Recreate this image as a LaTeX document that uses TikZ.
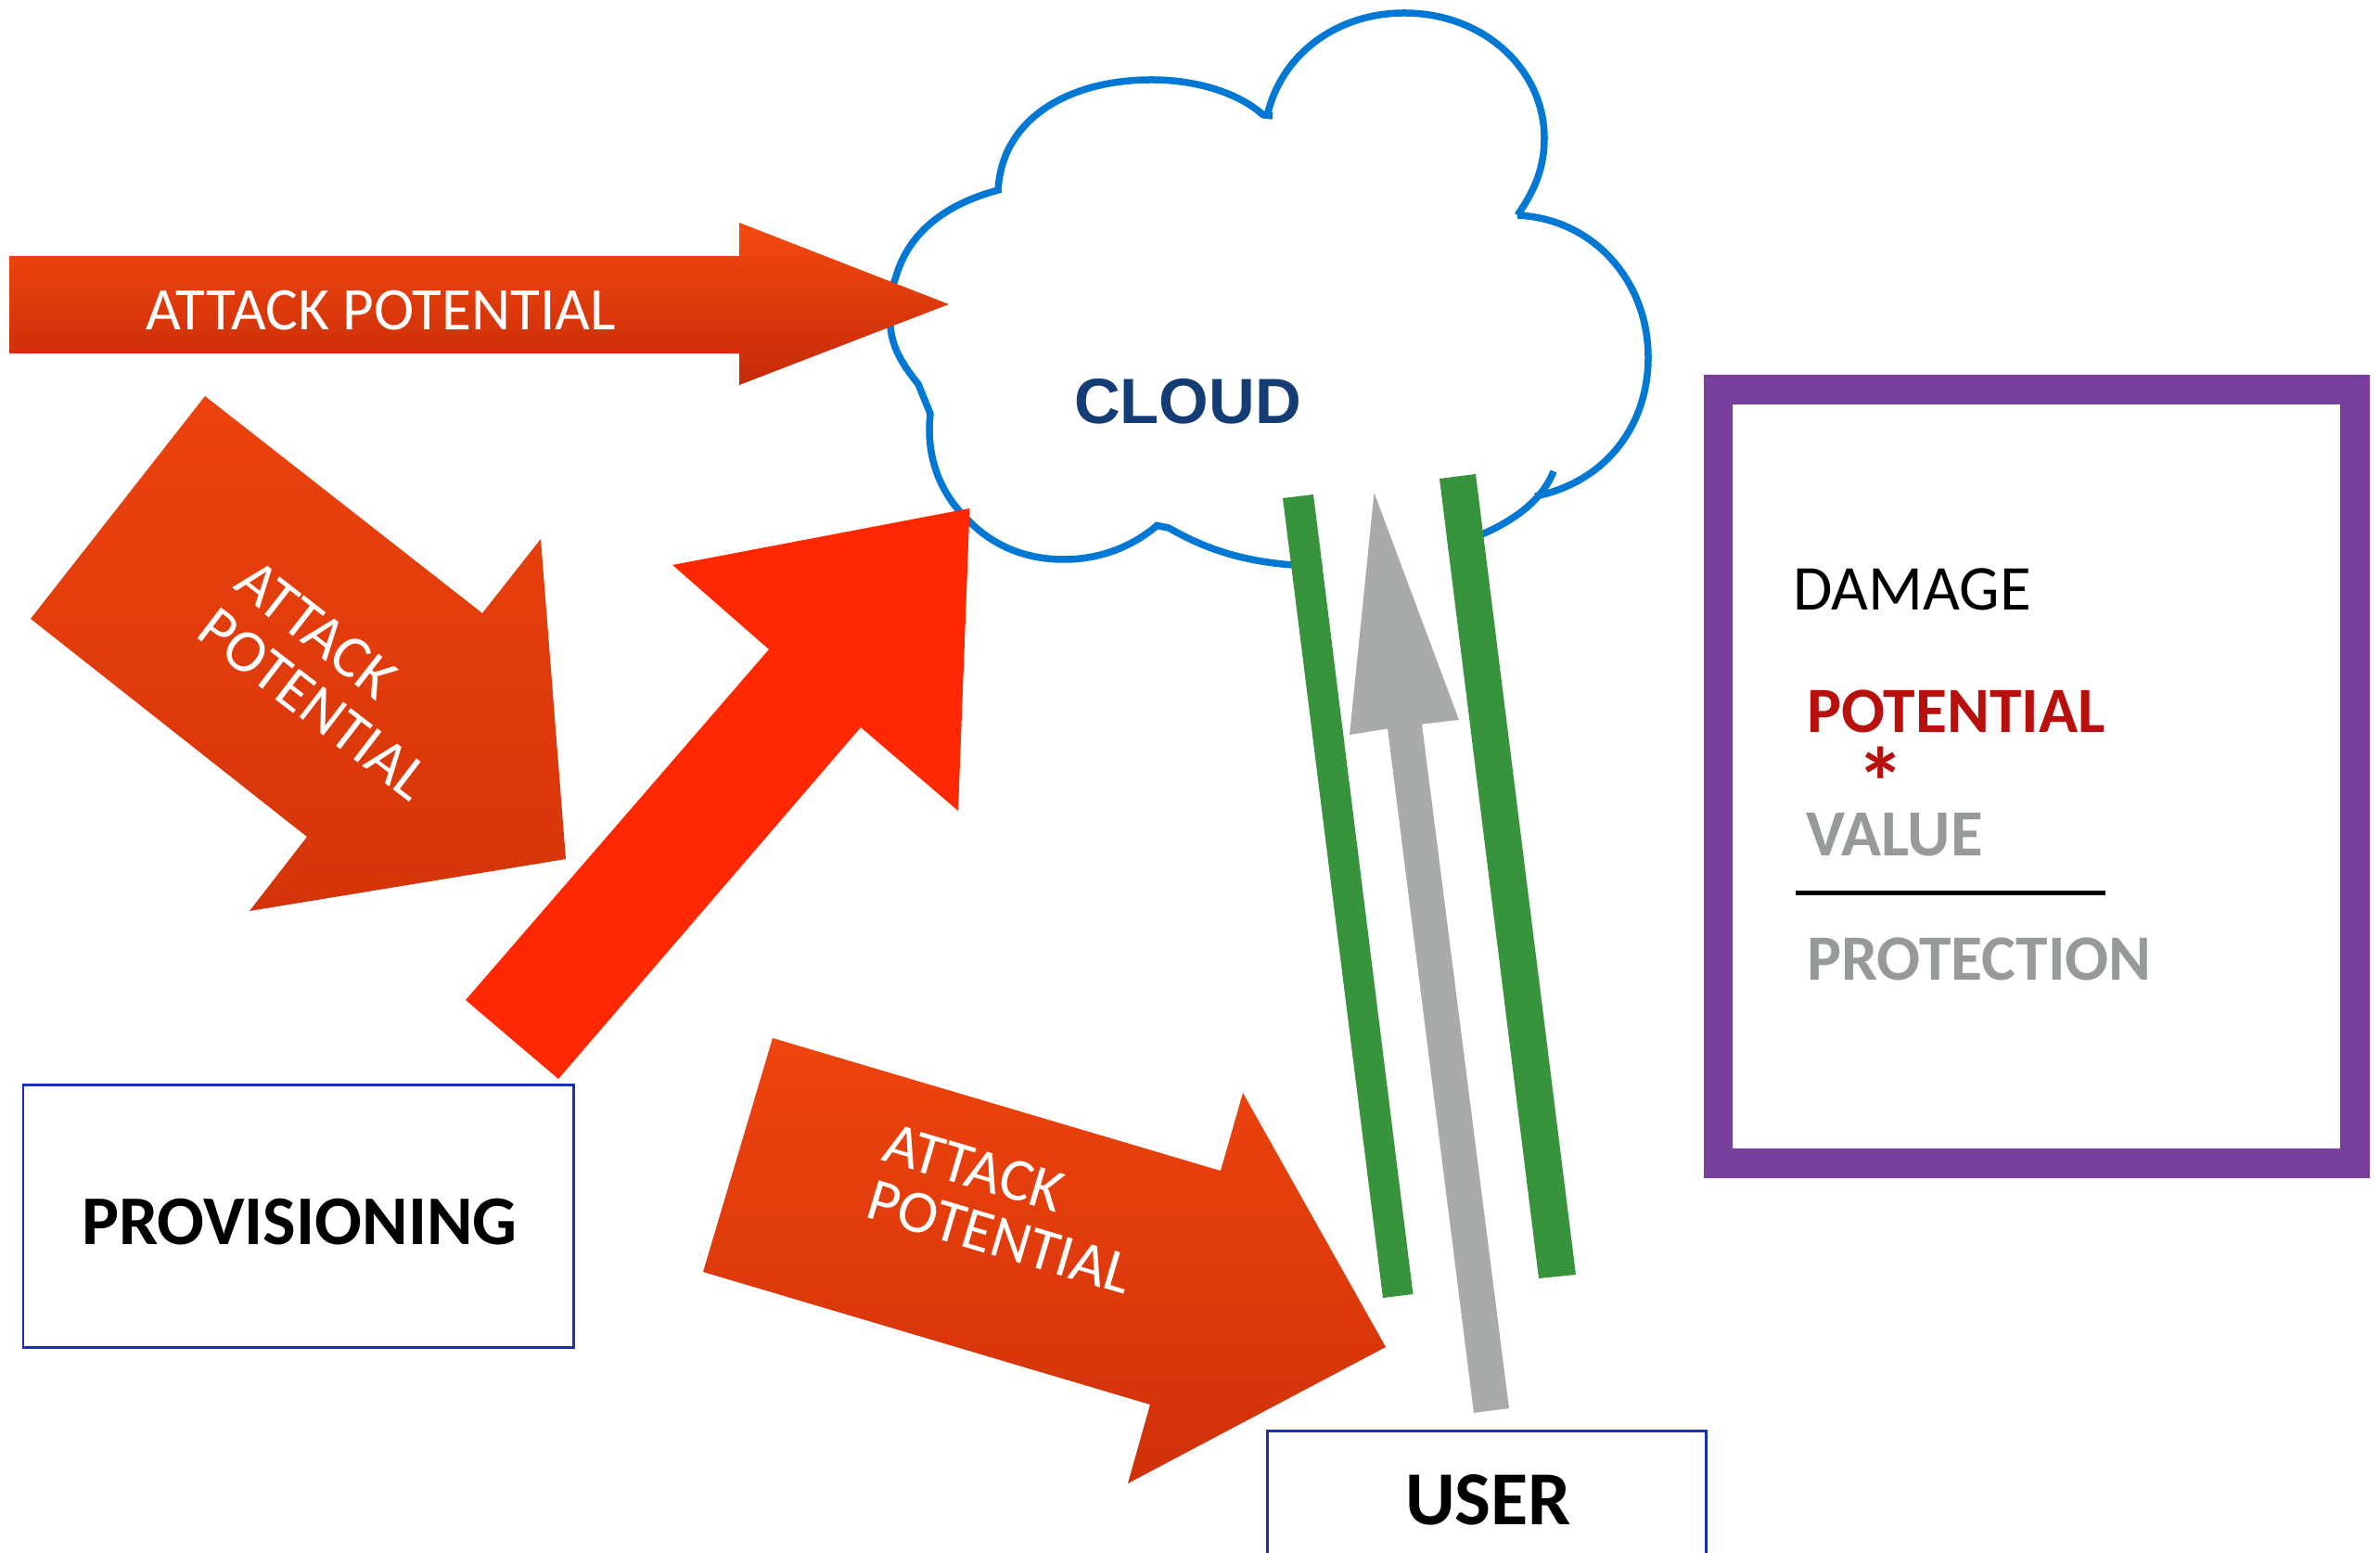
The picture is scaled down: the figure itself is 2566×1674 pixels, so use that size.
\documentclass[tikz,border=0pt]{standalone}
\usepackage{fontspec}
\setmainfont{Carlito}
\newfontfamily\arialf{Liberation Sans}
\definecolor{cloudblue}{HTML}{0078D4}
\definecolor{cloudtxt}{HTML}{153D75}
\definecolor{hot}{HTML}{F6490F}
\definecolor{midhot}{HTML}{E53B0B}
\definecolor{deep}{HTML}{C52A08}
\definecolor{redarrow}{HTML}{FF2800}
\definecolor{barg}{HTML}{38943C}
\definecolor{arrg}{HTML}{A9ABAA}
\definecolor{boxblue}{HTML}{1C2FB8}
\definecolor{purp}{HTML}{763F9C}
\definecolor{potred}{HTML}{B8100C}
\definecolor{valg}{HTML}{979A9A}
\newcommand{\txtsize}[1]{\fontsize{#1}{#1}\selectfont}
\tikzset{
  lab/.style={inner sep=0pt,outer sep=0pt,anchor=base west},
  whitelab/.style={lab,text=white,font=\txtsize{18.55}},
  gradrect/.style={inner sep=0pt,outer sep=0pt,draw=none,top color=hot,middle color=midhot,bottom color=deep,minimum width=1200*0.01cm},
  bluebox/.style={draw=boxblue,line width=0.028cm,fill=white},
  cloudline/.style={cloudblue,line width=0.075cm,line cap=butt,line join=round}
}
\begin{document}
\begin{tikzpicture}[x=0.01cm,y=-0.01cm]
\useasboundingbox (0,0) rectangle (2566,1674);
\clip (0,0) rectangle (2566,1674);
\fill[white] (0,0) rectangle (2566,1674);
% cloud
\fill[white]
 (1366,124) .. controls (1380,60) and (1440,14) .. (1514,14)
 .. controls (1600,14) and (1665,75) .. (1665,149)
 .. controls (1665,180) and (1655,205) .. (1638,229)
 -- (1636,232)
 .. controls (1720,236) and (1777,305) .. (1777,385)
 .. controls (1777,460) and (1730,520) .. (1657,535)
 .. controls (1645,585) and (1500,612) .. (1394,609)
 .. controls (1340,605) and (1300,592) .. (1262,569)
 -- (1246,567)
 .. controls (1220,590) and (1185,603) .. (1147,603)
 .. controls (1105,603) and (1070,588) .. (1043,560)
 .. controls (1012,530) and (998,490) .. (1002,444)
 -- (991,417)
 .. controls (975,395) and (962,375) .. (960,352)
 .. controls (958,332) and (960,315) .. (966,298)
 .. controls (980,250) and (1020,220) .. (1072,207)
 -- (1076,203)
 .. controls (1078,130) and (1150,86) .. (1241.6,86)
 .. controls (1290,86) and (1335,100) .. (1364,123)
 -- cycle;
\draw[cloudline]
 (1366,126) .. controls (1380,60) and (1440,14) .. (1514,14)
 .. controls (1600,14) and (1665,75) .. (1665,149)
 .. controls (1665,180) and (1655,205) .. (1636,232)
 (1636,232) .. controls (1720,236) and (1777,305) .. (1777,385)
 .. controls (1777,460) and (1730,520) .. (1655,535)
 (1675,508) .. controls (1645,585) and (1500,612) .. (1394,609)
 .. controls (1340,605) and (1300,592) .. (1260,569)
 -- (1245,566)
 (1248,566) .. controls (1220,590) and (1185,603) .. (1147,603)
 .. controls (1105,603) and (1070,588) .. (1043,560)
 .. controls (1012,530) and (998,490) .. (1003,446)
 -- (990,414)
 .. controls (973,393) and (962,375) .. (960,352)
 .. controls (958,332) and (960,315) .. (966,298)
 .. controls (980,250) and (1020,220) .. (1076,205)
 (1076,208) .. controls (1078,130) and (1150,86) .. (1241.6,86)
 .. controls (1290,86) and (1335,100) .. (1362,124) -- (1372,125);
\node[lab,text=cloudtxt,font=\arialf\bfseries\txtsize{19.6}] (cloudlab) at (1158,457) {CLOUD};
% top arrow
\begin{scope}
\clip (10,276) -- (797,276) -- (797,240) -- (1023,328) -- (797,415) -- (797,381) -- (10,381) -- cycle;
\node[gradrect,minimum height=1.75cm] (g1) at (500,328) {};
\end{scope}
\node[whitelab] (a1) at (157,356) {ATTACK POTENTIAL};
% left arrow
\begin{scope}
\clip (221,427) -- (520,661) -- (583,581) -- (610,926) -- (269,982) -- (331,902) -- (33,667) -- cycle;
\node[gradrect,minimum height=5.09cm,rotate=-38] (g2) at (426,781) {};
\end{scope}
\node[whitelab,rotate=-38] (a2a) at (250,634) {ATTACK};
\node[whitelab,rotate=-37.5] (a2b) at (209,686) {POTENTIAL};
% red arrow
\fill[redarrow] (1045.5,548) -- (725,609) -- (829,700) -- (502,1078) -- (602,1163) -- (928,784) -- (1033,874) -- cycle;
% bottom arrow
\begin{scope}
\clip (833,1119) -- (1316,1262) -- (1340,1178) -- (1494,1452) -- (1216,1599) -- (1240,1514) -- (758,1371) -- cycle;
\node[gradrect,minimum height=4.39cm,rotate=-16.5] (g3) at (1278,1388) {};
\end{scope}
\node[whitelab,rotate=-16.5] (a3a) at (949,1251) {ATTACK};
\node[whitelab,rotate=-16.5] (a3b) at (931,1312) {POTENTIAL};
% bars
\fill[white] (1416,533) -- (1552,516) -- (1659,1378) -- (1523.5,1395) -- cycle;
\fill[barg] (1383,537) -- (1416,533) -- (1523.5,1395) -- (1491,1399) -- cycle;
\fill[barg] (1552,516) -- (1591,511) -- (1699,1374) -- (1659,1378) -- cycle;
\fill[arrg] (1481.5,531) -- (1573,776) -- (1533,780.6) -- (1627,1518) -- (1589,1523) -- (1496,785.5) -- (1455,792) -- cycle;
% boxes
\node[bluebox,inner sep=0pt,anchor=north west,minimum width=5.93cm,minimum height=2.83cm] (prov) at (23.5,1168) {};
\node[lab,font=\bfseries\txtsize{21.4}] (provlab) at (88,1342) {PROVISIONING};
\node[bluebox,inner sep=0pt,anchor=north west,minimum width=4.73cm,minimum height=2.6cm] (user) at (1365,1541) {};
\node[lab,font=\bfseries\txtsize{23.4}] (userlab) at (1515,1643) {USER};
% purple frame
\fill[purp,even odd rule] (1837,404) rectangle (2555,1270) (1868,436) rectangle (2523,1238);
\node[lab,font=\txtsize{19.6}] (dmg) at (1933,658) {DAMAGE};
\node[lab,text=potred,font=\bfseries\txtsize{19.8}] (pot) at (1948,790) {POTENTIAL};
\node[lab,text=potred,font=\bfseries\txtsize{30}] (star) at (2001,881) {*};
\node[lab,text=valg,font=\bfseries\txtsize{20.2}] (val) at (1947,923) {VALUE};
\coordinate (rl) at (1936,963);
\coordinate (rr) at (2269.5,963);
\draw[black,line width=0.05cm] (rl) -- (rr);
\node[lab,text=valg,font=\bfseries\txtsize{19.8}] (prot) at (1948,1057) {PROTECTION};
\end{tikzpicture}
\end{document}
